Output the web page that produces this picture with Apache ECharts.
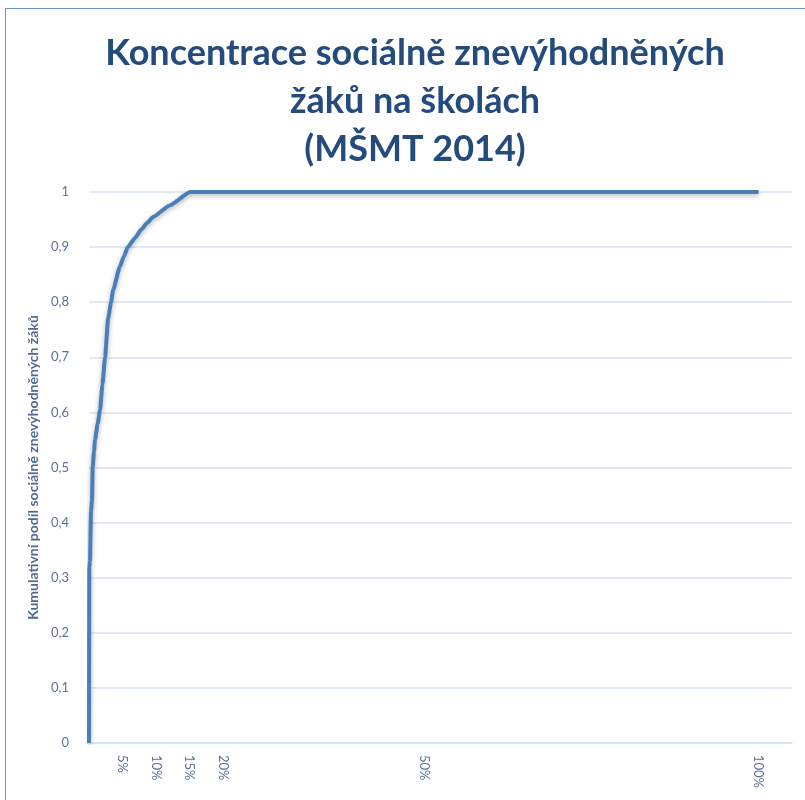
<!DOCTYPE html>
<html>
<head>
<meta charset="utf-8">
<script src="https://cdn.jsdelivr.net/npm/echarts@6/dist/echarts.min.js"></script>
<style>
  body { margin: 0; background: #fff; overflow: hidden; }
  #frame { position: absolute; left: 5px; top: 8px; width: 900px; height: 900px;
    border-left: 1px solid #6f93c4; border-top: 1px solid #6f93c4; }
  #chart { position: absolute; left: 0; top: 0; width: 805px; height: 800px; }
</style>
</head>
<body>
<div id="frame"></div>
<div id="chart"></div>
<script>
// podíl škol (%) a kumulativní podíl znevýhodněných žáků
const schoolShare = [0, 0.05, 0.15, 0.3, 0.45, 0.55, 0.75, 0.9, 1.3, 1.65, 2.0, 2.4, 2.85, 3.3, 3.6, 4.6, 5.2, 5.8, 6.9, 7.8, 8.7, 9.6, 12.1, 15.1, 100];
const cumShare = [0, 0.32, 0.33, 0.42, 0.44, 0.5, 0.53, 0.55, 0.58, 0.604, 0.65, 0.7, 0.77, 0.8, 0.822, 0.864, 0.883, 0.9, 0.917, 0.932, 0.944, 0.955, 0.976, 1.0, 1.0];
const xTickLabels = [5, 10, 15, 20, 50, 100];

const labelColor = '#5b7297';
const gridColor = '#d6e2f2';

const chart = echarts.init(document.getElementById('chart'));
chart.setOption({
  animation: false,
  title: {
    text: 'Koncentrace sociálně znevýhodněných\nžáků na školách\n(MŠMT 2014)',
    left: 410,
    textAlign: 'center',
    top: 24,
    textStyle: {
      fontFamily: 'Lato',
      fontWeight: 'bold',
      fontSize: 36,
      lineHeight: 48,
      color: '#244b7c',
    },
  },
  grid: { left: 89, right: 13, top: 192, bottom: 57 },
  xAxis: {
    type: 'value',
    min: 0,
    max: 105,
    interval: 5,
    axisLine: { show: true, lineStyle: { color: gridColor, width: 1.5 } },
    axisTick: { show: false },
    splitLine: { show: false },
    axisLabel: {
      rotate: -90,
      margin: 12,
      fontFamily: 'Lato',
      fontSize: 13,
      color: labelColor,
      formatter: v => (xTickLabels.includes(v) ? v + '%' : ''),
    },
  },
  yAxis: {
    type: 'value',
    min: 0,
    max: 1,
    interval: 0.1,
    name: 'Kumulativní podíl sociálně znevýhodněných žáků',
    nameLocation: 'middle',
    nameGap: 35,
    nameRotate: 90,
    nameTextStyle: { fontFamily: 'Lato', fontWeight: 'bold', fontSize: 14, color: '#4f6a92' },
    axisLine: { show: false },
    axisTick: { show: false },
    splitLine: { lineStyle: { color: gridColor, width: 1.5 } },
    axisLabel: {
      margin: 20,
      fontFamily: 'Lato',
      fontSize: 13,
      color: labelColor,
      formatter: v => String(Math.round(v * 10) / 10).replace('.', ','),
    },
  },
  series: [{
    type: 'line',
    data: schoolShare.map((x, i) => [x, cumShare[i]]),
    showSymbol: false,
    smooth: 0.15,
    smoothMonotone: 'x',
    lineStyle: {
      color: '#4a7ebb',
      width: 4,
      shadowColor: 'rgba(0,0,0,0.3)',
      shadowBlur: 5,
      shadowOffsetY: 2,
    },
  }],
});
</script>
</body>
</html>
